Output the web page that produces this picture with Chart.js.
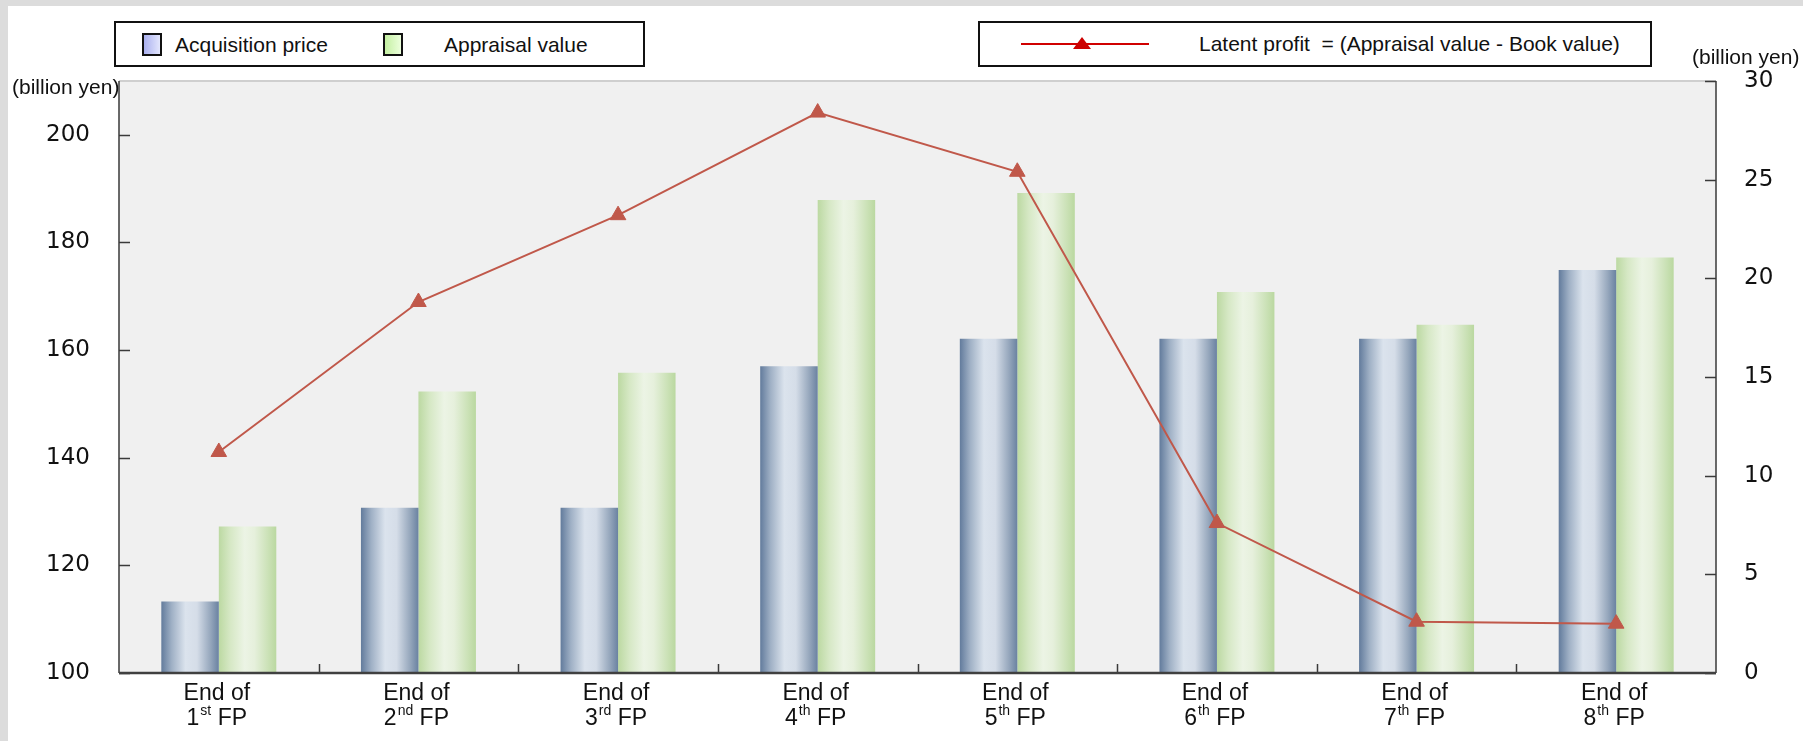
<!DOCTYPE html>
<html>
<head>
<meta charset="utf-8">
<script src="https://cdn.jsdelivr.net/npm/chart.js@4.4.1/dist/chart.umd.min.js"></script>
<style>
  body { margin: 0; background: #dcdcdc; font-family: "Liberation Sans", Arial, sans-serif; color: #111; }
  #wrap { position: relative; width: 1803px; height: 741px; overflow: hidden; }
  #paper { position: absolute; left: 8px; top: 6px; right: 0; bottom: 0; background: #fff; }
  #chartBox { position: absolute; left: 0; top: 0; width: 1803px; height: 741px; }
  .lg { position: absolute; border: 2px solid #111; box-sizing: border-box; background: #fff; }
  .txt { position: absolute; font-size: 21px; line-height: 24px; white-space: pre; }
  .sw { position: absolute; width: 20px; height: 23px; border: 2px solid #111; box-sizing: border-box; }
</style>
</head>
<body>
<div id="wrap">
  <div id="paper"></div>
  <div id="chartBox"><canvas id="chart"></canvas></div>

  <div class="lg" style="left:114px; top:21px; width:531px; height:46px;"></div>
  <div class="sw" style="left:142px; top:33px; background:linear-gradient(to right,#aab0ef,#e3e6fd);"></div>
  <div class="txt" style="left:175px; top:33px;">Acquisition price</div>
  <div class="sw" style="left:383px; top:33px; background:linear-gradient(to right,#c4f0a2,#ecffdc);"></div>
  <div class="txt" style="left:444px; top:33px;">Appraisal value</div>

  <div class="lg" style="left:978px; top:21px; width:674px; height:46px;"></div>
  <div style="position:absolute; left:1021px; top:43px; width:128px; height:2px; background:#d00000;"></div>
  <div style="position:absolute; left:1073px; top:37px; width:0; height:0; border-left:9px solid transparent; border-right:9px solid transparent; border-bottom:12px solid #cc0000;"></div>
  <div class="txt" style="left:1199px; top:32px;">Latent profit  = (Appraisal value - Book value)</div>

  <div class="txt" style="left:12px; top:75px;">(billion yen)</div>
  <div class="txt" style="left:1692px; top:45px;">(billion yen)</div>
</div>

<script>
// fiscal periods
const periods = ["1", "2", "3", "4", "5", "6", "7", "8"];
const suffixes = ["st", "nd", "rd", "th", "th", "th", "th", "th"];

// billion yen, left axis
const acquisitionPrice = [113.3, 130.7, 130.7, 157.0, 162.1, 162.1, 162.1, 174.9];
const appraisalValue = [127.2, 152.3, 155.8, 187.9, 189.2, 170.8, 164.7, 177.2];

// billion yen, right axis
const latentProfit = [11.2, 18.8, 23.2, 28.4, 25.4, 7.6, 2.6, 2.5];

const leftTicks = { min: 100, max: 210, step: 20 };
const rightTicks = { min: 0, max: 30, step: 5 };

const CAT_PCT = 0.576;
const labels = periods.map((p, i) => "End of " + p + suffixes[i] + " FP");

const acqStops = [[0, "#627b9c"], [0.18, "#9fb0c5"], [0.42, "#dbe3ed"], [0.62, "#d5dde8"], [0.85, "#97a8bd"], [1, "#6a82a1"]];
const apprStops = [[0, "#bcd9a2"], [0.2, "#d6e8c5"], [0.45, "#ecf4e5"], [0.62, "#e6f0dc"], [0.85, "#cce2b8"], [1, "#bad8a0"]];

// horizontal shading per bar, worked out from the category scale
function barShade(stops, side) {
  return (c) => {
    const chart = c.chart;
    const x = chart.scales.x;
    if (!x || !x.width) return stops[2][1];
    const groupW = x.width / chart.data.labels.length * CAT_PCT;
    const mid = x.getPixelForValue(c.dataIndex);
    const x0 = side < 0 ? mid - groupW / 2 : mid;
    const g = chart.ctx.createLinearGradient(x0, 0, x0 + groupW / 2, 0);
    stops.forEach(([o, col]) => g.addColorStop(o, col));
    return g;
  };
}

const frame = {
  id: "frame",
  beforeDraw(chart) {
    const { ctx, chartArea: a } = chart;
    ctx.save();
    ctx.fillStyle = "#f0f0f0";
    ctx.fillRect(a.left, a.top, a.right - a.left, a.bottom - a.top);
    ctx.strokeStyle = "#cfcfcf";
    ctx.lineWidth = 2;
    ctx.beginPath();
    ctx.moveTo(a.left, a.top);
    ctx.lineTo(a.right, a.top);
    ctx.stroke();
    ctx.restore();
  },
  afterDatasetsDraw(chart) {
    const { ctx, chartArea: a, scales } = chart;
    ctx.save();
    ctx.strokeStyle = "#3a3a3a";
    ctx.lineWidth = 1.5;
    ctx.beginPath();
    ctx.moveTo(a.left, a.top);
    ctx.lineTo(a.left, a.bottom);
    ctx.moveTo(a.right, a.top);
    ctx.lineTo(a.right, a.bottom);
    // inner tick marks
    scales.y.ticks.forEach(t => {
      const y = Math.round(scales.y.getPixelForValue(t.value)) + 0.5;
      ctx.moveTo(a.left, y);
      ctx.lineTo(a.left + 11, y);
    });
    scales.y1.ticks.forEach(t => {
      const y = Math.round(scales.y1.getPixelForValue(t.value)) + 0.5;
      ctx.moveTo(a.right, y);
      ctx.lineTo(a.right - 11, y);
    });
    const n = chart.data.labels.length;
    const w = scales.x.width / n;
    for (let i = 1; i < n; i++) {
      const x = Math.round(scales.x.getPixelForValue(i) - w / 2) + 0.5;
      ctx.moveTo(x, a.bottom);
      ctx.lineTo(x, a.bottom - 9);
    }
    ctx.stroke();
    ctx.strokeStyle = "#404040";
    ctx.lineWidth = 2.5;
    ctx.beginPath();
    ctx.moveTo(a.left, a.bottom);
    ctx.lineTo(a.right, a.bottom);
    ctx.stroke();
    ctx.restore();
  },
  afterDraw(chart) {
    const { ctx, scales } = chart;
    const big = '23px "Liberation Sans", Arial, sans-serif';
    const small = '14px "Liberation Sans", Arial, sans-serif';
    ctx.save();
    ctx.fillStyle = "#111";
    ctx.textBaseline = "alphabetic";
    periods.forEach((p, i) => {
      const cx = scales.x.getPixelForValue(i) - 2;
      ctx.font = big;
      ctx.textAlign = "center";
      ctx.fillText("End of", cx, 700);
      ctx.textAlign = "left";
      const wNum = ctx.measureText(p).width;
      const wFp = ctx.measureText(" FP").width;
      ctx.font = small;
      const wSup = ctx.measureText(suffixes[i]).width + 1;
      let x = cx - (wNum + wSup + wFp) / 2;
      ctx.font = big;
      ctx.fillText(p, x, 725);
      x += wNum;
      ctx.font = small;
      ctx.fillText(suffixes[i], x + 1, 715);
      x += wSup;
      ctx.font = big;
      ctx.fillText(" FP", x, 725);
    });
    ctx.restore();
  }
};

const tickFont = { family: "DejaVu Sans", size: 23 };

new Chart(document.getElementById("chart"), {
  data: {
    labels: labels,
    datasets: [
      {
        type: "line",
        label: "Latent profit",
        data: latentProfit,
        yAxisID: "y1",
        borderColor: "#c0584a",
        borderWidth: 2,
        pointStyle: "triangle",
        pointRadius: 9,
        pointBackgroundColor: "#c0584a",
        pointBorderColor: "#c0584a",
        pointBorderWidth: 1,
        tension: 0,
        order: 0
      },
      {
        type: "bar",
        label: "Acquisition price",
        data: acquisitionPrice,
        yAxisID: "y",
        backgroundColor: barShade(acqStops, -1),
        borderWidth: 0,
        categoryPercentage: CAT_PCT,
        barPercentage: 1,
        order: 1
      },
      {
        type: "bar",
        label: "Appraisal value",
        data: appraisalValue,
        yAxisID: "y",
        backgroundColor: barShade(apprStops, 1),
        borderWidth: 0,
        categoryPercentage: CAT_PCT,
        barPercentage: 1,
        order: 1
      }
    ]
  },
  options: {
    responsive: true,
    maintainAspectRatio: false,
    animation: false,
    layout: { padding: { top: 81, left: 0, right: 0, bottom: 0 } },
    plugins: { legend: { display: false }, tooltip: { enabled: false } },
    scales: {
      x: {
        grid: { display: false },
        border: { display: false },
        ticks: { display: false },
        afterFit: s => { s.height = 68; }
      },
      y: {
        position: "left",
        min: leftTicks.min,
        max: leftTicks.max,
        grid: { display: false, drawTicks: false },
        border: { display: false },
        ticks: { stepSize: leftTicks.step, includeBounds: false, padding: 29, color: "#111", font: tickFont },
        afterFit: s => { s.width = 119; }
      },
      y1: {
        position: "right",
        min: rightTicks.min,
        max: rightTicks.max,
        grid: { display: false, drawTicks: false },
        border: { display: false },
        ticks: { stepSize: rightTicks.step, padding: 28, color: "#111", font: tickFont },
        afterFit: s => { s.width = 87; }
      }
    }
  },
  plugins: [frame]
});
</script>
</body>
</html>
